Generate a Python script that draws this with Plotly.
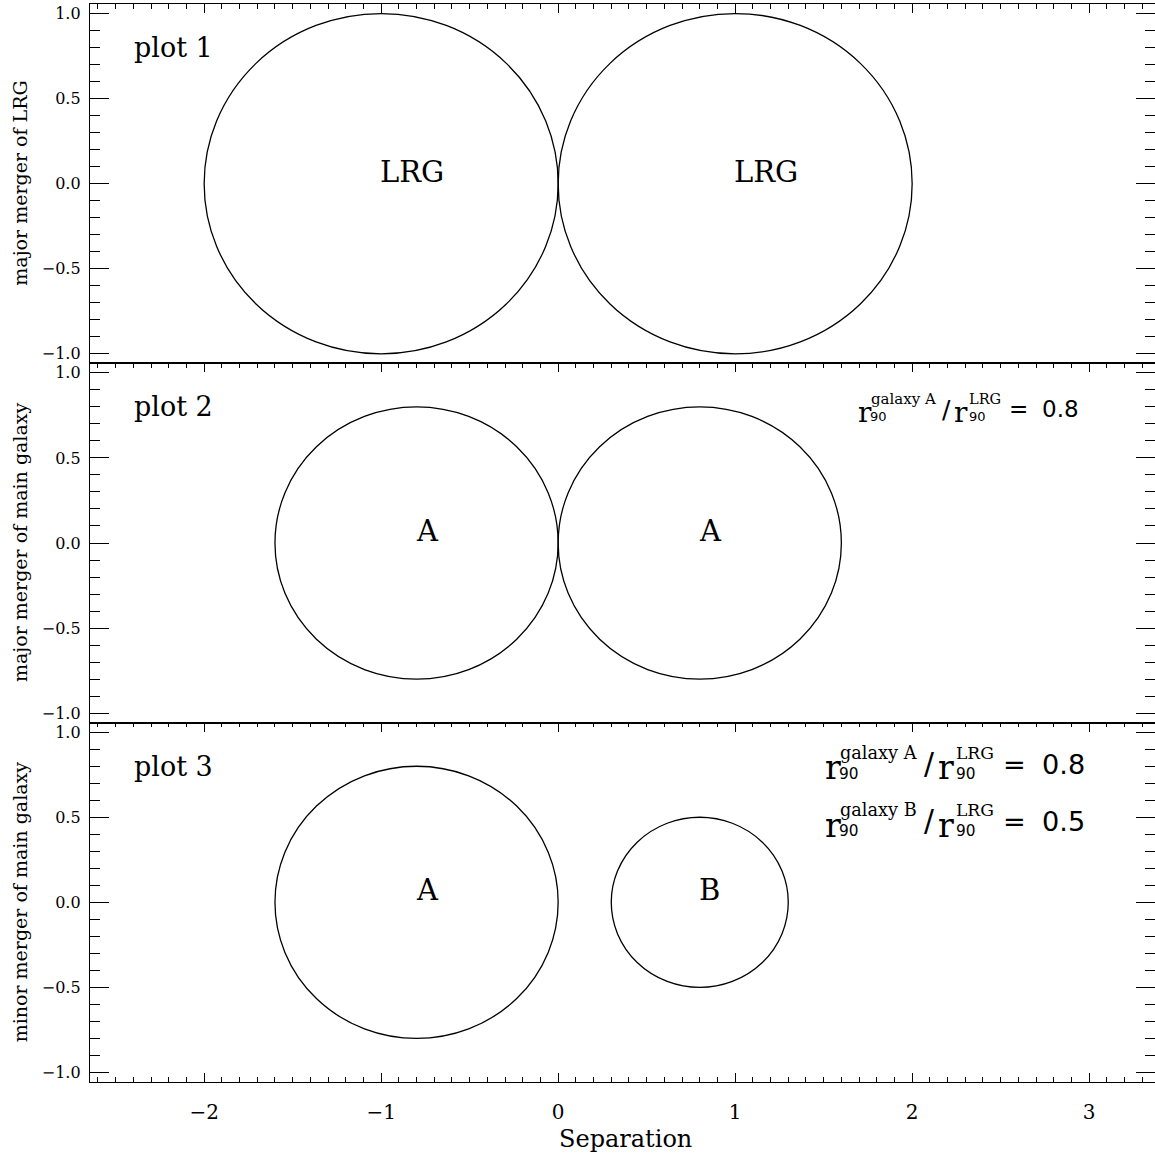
import plotly.graph_objects as go
from plotly.subplots import make_subplots

# ---------------- data ----------------
panel_titles = ["major merger of LRG", "major merger of main galaxy", "minor merger of main galaxy"]
panel_tags = ["plot 1", "plot 2", "plot 3"]
centers = [[-1.0, 1.0], [-0.8, 0.8], [-0.8, 0.8]]
radii = [[1.0, 1.0], [0.8, 0.8], [0.8, 0.5]]
labels = [["LRG", "LRG"], ["A", "A"], ["A", "B"]]
ratio_galaxies = [[], ["galaxy A"], ["galaxy A", "galaxy B"]]
ratio_values = [[], ["0.8"], ["0.8", "0.5"]]
x_range = [-2.645, 3.372]
y_range = [-1.056, 1.056]
x_title = "Separation"

SERIF = "DejaVu Serif"
SANS = "DejaVu Sans"

W, H = 1155, 1157
ML, MR, MT, MB = 90, 0, 4, 75
PW = W - ML - MR
PH = H - MT - MB


def px2paper(px, py):
    return (px - ML) / PW, (H - MB - py) / PH


fig = make_subplots(rows=3, cols=1, vertical_spacing=0)

for i in range(3):
    row = i + 1
    # invisible anchor trace so the subplot exists
    fig.add_trace(go.Scatter(x=centers[i], y=[0] * len(centers[i]), mode="markers",
                             marker=dict(opacity=0), hoverinfo="skip", showlegend=False),
                  row=row, col=1)
    for c, r in zip(centers[i], radii[i]):
        fig.add_shape(type="circle", x0=c - r, x1=c + r, y0=-r, y1=r,
                      line=dict(color="black", width=1.3), row=row, col=1)
    xr = "x" if i == 0 else f"x{row}"
    yr = "y" if i == 0 else f"y{row}"
    for c, lab in zip(centers[i], labels[i]):
        fig.add_annotation(x=c, y=0, xref=xr, yref=yr, text=lab, showarrow=False,
                           xanchor="left", yanchor="bottom", yshift=-7, xshift=-3,
                           font=dict(family=SERIF, size=29, color="black"))
    fig.add_annotation(x=-2.41, y=0.80, xref=xr, yref=yr, text=panel_tags[i], showarrow=False,
                       xanchor="left", yanchor="middle",
                       font=dict(family=SERIF, size=27, color="black"))
    # y title
    fig.add_annotation(x=px2paper(20, 0)[0], y=(2 - i + 0.5) / 3, xref="paper", yref="paper",
                       text=panel_titles[i], textangle=-90, showarrow=False,
                       xanchor="center", yanchor="middle",
                       font=dict(family=SERIF, size=19, color="black"))


def ratio_label(x0, cy, s, gal, val):
    pieces = [
        ("r", 0, 0, 28, SERIF),
        (gal, 13, -13, 15, SERIF),
        ("90", 12, 5, 13, SANS),
        ("/", 84, -3, 25, SANS),
        ("r", 96, 0, 28, SERIF),
        ("LRG", 111, -13, 14.5, SERIF),
        ("90", 111, 5, 13, SANS),
        ("=", 151, -3, 23, SANS),
        (val, 184, -3, 23, SANS),
    ]
    for txt, dx, dy, size, fam in pieces:
        xp, yp = px2paper(x0 + dx * s, cy + dy * s)
        fig.add_annotation(x=xp, y=yp, xref="paper", yref="paper", text=txt, showarrow=False,
                           xanchor="left", yanchor="middle",
                           font=dict(family=fam, size=size * s, color="black"))


ratio_label(856, 412, 1.0, ratio_galaxies[1][0], ratio_values[1][0])
ratio_label(823, 768, 1.18, ratio_galaxies[2][0], ratio_values[2][0])
ratio_label(823, 825, 1.18, ratio_galaxies[2][1], ratio_values[2][1])

# x title
fig.add_annotation(x=px2paper(625, 0)[0], y=px2paper(0, 1139)[1], xref="paper", yref="paper",
                   text=x_title, showarrow=False, xanchor="center", yanchor="middle",
                   font=dict(family=SERIF, size=24, color="black"))

common_x = dict(range=x_range, dtick=1, tick0=0, ticks="inside", ticklen=9, tickwidth=1.2,
                tickcolor="black", showline=True, linecolor="black", linewidth=1.3,
                showgrid=False, zeroline=False,
                minor=dict(dtick=0.1, ticks="inside", ticklen=4.5, tickwidth=1, tickcolor="black",
                           showgrid=False),
                tickfont=dict(family=SERIF, size=20, color="black"))
common_y = dict(range=y_range, dtick=0.5, tick0=0, ticks="inside", ticklen=19, tickwidth=1.2,
                tickcolor="black", showline=True, linecolor="black", linewidth=1.3,
                showgrid=False, zeroline=False, mirror="ticks", tickformat=".1f",
                minor=dict(dtick=0.1, ticks="inside", ticklen=10, tickwidth=1, tickcolor="black",
                           showgrid=False),
                tickfont=dict(family=SERIF, size=16, color="black"), ticklabelstandoff=5)

for i in range(3):
    row = i + 1
    if row < 3:
        fig.update_xaxes(common_x, side="top", mirror=True, showticklabels=False, row=row, col=1)
    else:
        fig.update_xaxes(common_x, side="bottom", mirror="ticks", showticklabels=True,
                         ticklabelstandoff=12, row=row, col=1)
    fig.update_yaxes(common_y, row=row, col=1)

fig.update_layout(width=W, height=H, margin=dict(l=ML, r=MR, t=MT, b=MB),
                  paper_bgcolor="white", plot_bgcolor="white", showlegend=False)

fig.write_html("out.html")
